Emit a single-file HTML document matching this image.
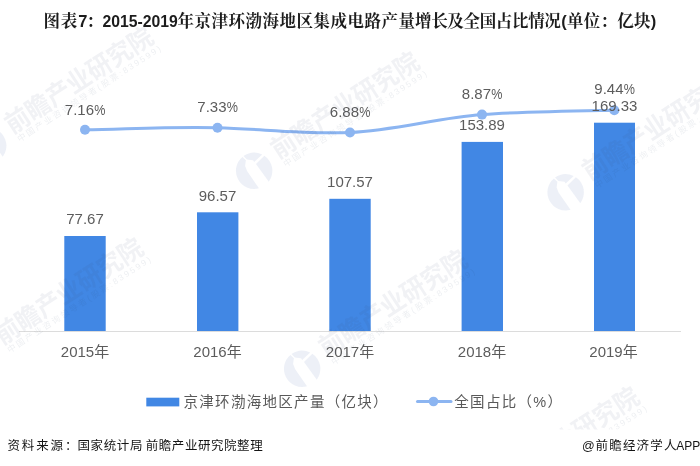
<!DOCTYPE html>
<html><head><meta charset="utf-8">
<style>
html,body{margin:0;padding:0;background:#fff;}
body{width:700px;height:466px;overflow:hidden;position:relative;}
svg{position:absolute;left:0;top:0;}
.t{font-family:"Liberation Sans","Noto Serif CJK SC",serif;font-weight:700;font-size:16.5px;fill:#1c1c1c;}
.v{font-family:"Liberation Sans","Noto Sans CJK SC",sans-serif;font-size:15px;fill:#5c5c5c;}
.l{font-family:"Liberation Sans","Noto Sans CJK SC",sans-serif;font-size:14.5px;fill:#595959;letter-spacing:1.3px;}
.f{font-family:"Liberation Sans","Noto Sans CJK SC",sans-serif;font-size:12.5px;fill:#151515;}
.w1{font-family:"Liberation Sans","Noto Sans CJK SC",sans-serif;font-weight:bold;font-size:26px;}
.w2{font-family:"Liberation Sans","Noto Sans CJK SC",sans-serif;font-size:8.5px;}
</style></head><body>
<svg width="700" height="466" viewBox="0 0 700 466">
<defs>
<clipPath id="wclip"><rect x="0" y="0" width="700" height="429.5"/></clipPath>
<g id="wm" fill="#34476b" fill-opacity="0.085">
<g transform="rotate(-33)">
<text class="w1" fill-opacity="0.07" x="26" y="4.3" textLength="171" lengthAdjust="spacingAndGlyphs">前瞻产业研究院</text>
<text class="w2" x="28" y="15" textLength="169" lengthAdjust="spacing">中国产业咨询领导者(股票:839599)</text>
</g>
<g transform="translate(0.2,0.8)" fill="#3050a0" fill-opacity="0.085">
<path d="M-11.8,-13.9 A18.2,18.2 0 0 0 4.8,17.55 L-7,0.5 L-9.1,-4.8 L-8.3,-10.5 Z"/>
<path d="M-10.7,-14.7 A18.2,18.2 0 0 1 8,-16.35 L0,-8.8 L-1.2,-10.6 L-7.3,-11.2 Z"/>
<path d="M10.2,-15.07 A18.2,18.2 0 0 1 14.6,10.87 L1.8,-6.8 Z"/>
</g>
</g>
</defs>
<rect width="700" height="466" fill="#fff"/>
<g class="t">
<text x="43.6 60.8 78.3 86.5" y="26.5">图表7：</text>
<text x="102.4" y="26.5" textLength="75.4" lengthAdjust="spacingAndGlyphs">2015-2019</text>
<text x="177.5" y="26.5" textLength="237.4" lengthAdjust="spacing">年京津环渤海地区集成电路产量</text>
<text x="415" y="26.5" textLength="145.8" lengthAdjust="spacing">增长及全国占比情况</text>
<text x="561.3" y="26.5" textLength="95" lengthAdjust="spacing">(单位：亿块)</text>
</g>
<g fill="#4187e4">
<rect x="64.3" y="236" width="41.4" height="95"/>
<rect x="197" y="212.3" width="41.4" height="118.7"/>
<rect x="329.3" y="198.8" width="41.4" height="132.2"/>
<rect x="461.6" y="141.9" width="41.4" height="189.1"/>
<rect x="594" y="122.7" width="41" height="208.3"/>
</g>
<line x1="19" y1="331.5" x2="681" y2="331.5" stroke="#dcdcdc" stroke-width="1"/>
<path d="M85,129.8 C129,129 173,126.5 217.5,127.7 C262,129 306,134.5 350,132.5 C394,130.5 438,118 482,114.6 C526,111.5 570,111 614.3,110.2" fill="none" stroke="#8cb5f1" stroke-width="3" stroke-linecap="round"/>
<g fill="#8cb5f1">
<circle cx="85" cy="129.8" r="5"/><circle cx="217.5" cy="127.7" r="5"/><circle cx="350" cy="132.5" r="5"/><circle cx="482" cy="114.6" r="5"/><circle cx="614.3" cy="110.2" r="5"/>
</g>
<g class="v" text-anchor="middle">
<text x="64.8" y="114.5" text-anchor="start">7.16</text><text x="94.2" y="114.5" text-anchor="start" textLength="11.2" lengthAdjust="spacingAndGlyphs">%</text><text x="197.3" y="111.5" text-anchor="start">7.33</text><text x="226.7" y="111.5" text-anchor="start" textLength="11.2" lengthAdjust="spacingAndGlyphs">%</text><text x="329.8" y="117" text-anchor="start">6.88</text><text x="359.2" y="117" text-anchor="start" textLength="11.2" lengthAdjust="spacingAndGlyphs">%</text><text x="461.8" y="99" text-anchor="start">8.87</text><text x="491.2" y="99" text-anchor="start" textLength="11.2" lengthAdjust="spacingAndGlyphs">%</text><text x="594.3" y="94" text-anchor="start">9.44</text><text x="623.7" y="94" text-anchor="start" textLength="11.2" lengthAdjust="spacingAndGlyphs">%</text>
<text x="85" y="224">77.67</text><text x="217.5" y="200.7">96.57</text><text x="350" y="187">107.57</text><text x="482" y="130">153.89</text><text x="614.5" y="111">169.33</text>
<text x="85" y="357.2">2015年</text><text x="217.5" y="357.2">2016年</text><text x="350" y="357.2">2017年</text><text x="482" y="357.2">2018年</text><text x="613.5" y="357.2">2019年</text>
</g>
<rect x="146.3" y="397.7" width="33" height="8.7" fill="#4187e4"/>
<text class="l" x="183.5" y="407">京津环渤海地区产量（亿块）</text>
<line x1="417.5" y1="401.5" x2="451" y2="401.5" stroke="#8cb5f1" stroke-width="3" stroke-linecap="round"/>
<circle cx="433.5" cy="401.5" r="4.8" fill="#8cb5f1"/>
<text class="l" x="454.3" y="407">全国占比（%）</text>
<g class="f">
<text x="7.5" y="450" textLength="70" lengthAdjust="spacing">资料来源：</text>
<text x="77.5" y="450" textLength="65" lengthAdjust="spacing">国家统计局</text>
<text x="145.7" y="450" textLength="117" lengthAdjust="spacing">前瞻产业研究院整理</text>
<text x="582" y="450">@</text>
<text x="595.5" y="450" textLength="81" lengthAdjust="spacing">前瞻经济学人</text>
<text x="676.3" y="450" textLength="24" lengthAdjust="spacingAndGlyphs">APP</text>
</g>
<g id="wms" clip-path="url(#wclip)">
<use href="#wm" x="254" y="170"/>
<use href="#wm" x="302" y="368"/>
<use href="#wm" x="-12" y="145"/>
<use href="#wm" x="-22" y="356"/>
<use href="#wm" x="565.5" y="191.5"/>
<use href="#wm" x="474" y="505"/>
</g>
</svg>
</body></html>
